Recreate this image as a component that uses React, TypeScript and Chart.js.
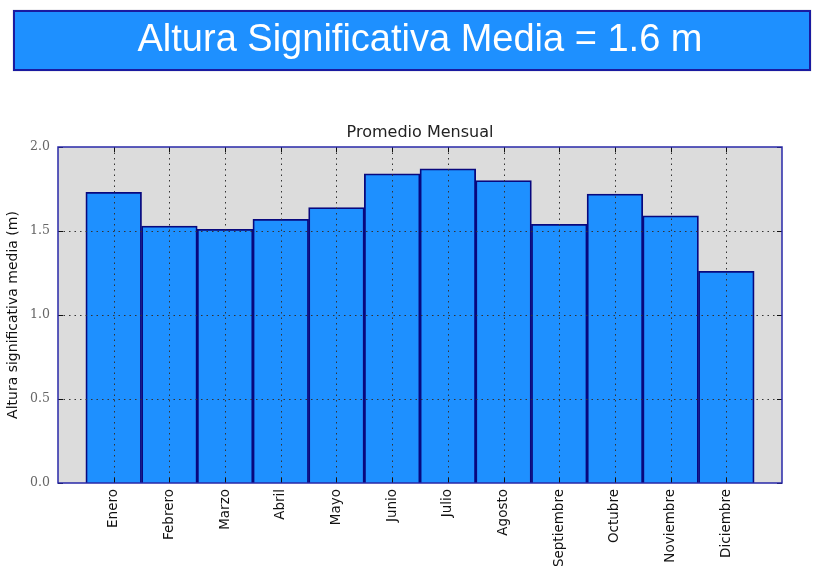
import React, { useEffect, useRef } from "react";
import { Chart, registerables } from "chart.js";

Chart.register(...registerables);

const months = [
  "Enero", "Febrero", "Marzo", "Abril", "Mayo", "Junio",
  "Julio", "Agosto", "Septiembre", "Octubre", "Noviembre", "Diciembre",
];
const heights = [1.73, 1.53, 1.51, 1.57, 1.64, 1.84, 1.87, 1.80, 1.54, 1.72, 1.59, 1.26];
const yTicks = [0, 0.5, 1.0, 1.5, 2.0];
const bannerText = "Altura Significativa Media = 1.6 m";
const plotTitle = "Promedio Mensual";
const yTitle = "Altura significativa media (m)";

const W = 813;
const H = 570;

const framePlugin = {
  id: "framePlugin",
  beforeDraw(chart: any) {
    const { ctx, chartArea: a } = chart;
    ctx.save();
    ctx.fillStyle = "#DCDCDC";
    ctx.fillRect(a.left, a.top, a.right - a.left, a.bottom - a.top);
    ctx.restore();
  },
  afterDatasetsDraw(chart: any) {
    const { ctx, chartArea: a } = chart;
    const xs = chart.scales.x;
    const ys = chart.scales.y;
    ctx.save();
    // dotted grid over bars
    ctx.strokeStyle = "#333";
    ctx.lineWidth = 1;
    ctx.setLineDash([1.5, 4]);
    months.forEach((_, i) => {
      const x = Math.round(xs.getPixelForValue(i)) + 0.5;
      ctx.beginPath();
      ctx.moveTo(x, a.top);
      ctx.lineTo(x, a.bottom);
      ctx.stroke();
    });
    yTicks.slice(1, -1).forEach((v) => {
      const y = Math.round(ys.getPixelForValue(v)) + 0.5;
      ctx.beginPath();
      ctx.moveTo(a.left, y);
      ctx.lineTo(a.right, y);
      ctx.stroke();
    });
    ctx.setLineDash([]);
    // inward tick marks
    ctx.strokeStyle = "#111";
    const tl = 5;
    months.forEach((_, i) => {
      const x = Math.round(xs.getPixelForValue(i)) + 0.5;
      ctx.beginPath();
      ctx.moveTo(x, a.top);
      ctx.lineTo(x, a.top + tl);
      ctx.moveTo(x, a.bottom);
      ctx.lineTo(x, a.bottom - tl);
      ctx.stroke();
    });
    yTicks.forEach((v) => {
      const y = Math.round(ys.getPixelForValue(v)) + 0.5;
      ctx.beginPath();
      ctx.moveTo(a.left, y);
      ctx.lineTo(a.left + tl, y);
      ctx.moveTo(a.right, y);
      ctx.lineTo(a.right - tl, y);
      ctx.stroke();
    });
    // frame
    ctx.strokeStyle = "#2828a8";
    ctx.lineWidth = 1.5;
    ctx.strokeRect(a.left, a.top, a.right - a.left, a.bottom - a.top);
    // title
    ctx.fillStyle = "#222";
    ctx.font = "16px 'DejaVu Sans'";
    ctx.textAlign = "center";
    ctx.textBaseline = "alphabetic";
    ctx.fillText(plotTitle, (a.left + a.right) / 2, a.top - 10);
    ctx.restore();
  },
};

export default function App() {
  const ref = useRef<HTMLCanvasElement | null>(null);

  useEffect(() => {
    if (!ref.current) return;
    const chart = new Chart(ref.current, {
      type: "bar",
      data: {
        datasets: [
          {
            data: months.map((_, i) => ({ x: i, y: heights[i] })),
            backgroundColor: "#1E90FF",
            borderColor: "#08087e",
            borderWidth: 1.8,
            barPercentage: 1,
            categoryPercentage: 1,
          },
        ],
      },
      options: {
        animation: false,
        responsive: false,
        layout: { padding: { top: 147, right: 31, bottom: 0, left: 0 } },
        plugins: {
          legend: { display: false },
          tooltip: { enabled: false },
          title: { display: false },
        },
        scales: {
          x: {
            type: "linear",
            min: -1,
            max: 12,
            offset: false,
            afterFit: (s: any) => {
              s.height = 87;
            },
            grid: { display: false, drawTicks: false },
            border: { display: false },
            ticks: {
              stepSize: 1,
              autoSkip: false,
              minRotation: 90,
              maxRotation: 90,
              padding: 6,
              color: "#111",
              font: { family: "'DejaVu Sans'", size: 13.5 },
              callback: (v: any) => months[v as number] ?? "",
            },
          },
          y: {
            min: 0,
            max: 2,
            afterFit: (s: any) => {
              s.width = 58;
            },
            grid: { display: false, drawTicks: false },
            border: { display: false },
            title: {
              display: true,
              text: yTitle,
              color: "#111",
              font: { family: "'DejaVu Sans'", size: 14 },
              padding: { top: 5, bottom: 0 },
            },
            ticks: {
              stepSize: 0.5,
              padding: 8,
              color: "#666",
              font: { family: "'DejaVu Serif'", size: 12.5 },
              callback: (v: any) => Number(v).toFixed(1),
            },
          },
        },
      },
      plugins: [framePlugin],
    });
    return () => chart.destroy();
  }, []);

  return (
    <div style={{ position: "absolute", left: 0, top: 0, width: W, height: H, background: "#fff" }}>
      <canvas ref={ref} width={W} height={H} style={{ position: "absolute", left: 0, top: 0, width: W, height: H }} />
      <div
        style={{
          position: "absolute",
          left: 13,
          top: 10,
          width: 798,
          height: 61,
          boxSizing: "border-box",
          background: "#1E90FF",
          border: "2px solid #1a1aa0",
          color: "#fff",
          fontFamily: "'Liberation Sans', Arial, sans-serif",
          fontSize: 38,
          display: "flex",
          alignItems: "center",
          justifyContent: "center",
          paddingLeft: 16,
          paddingBottom: 4,
          boxShadow: "0 0 1px #99a",
        }}
      >
        {bannerText}
      </div>
    </div>
  );
}
